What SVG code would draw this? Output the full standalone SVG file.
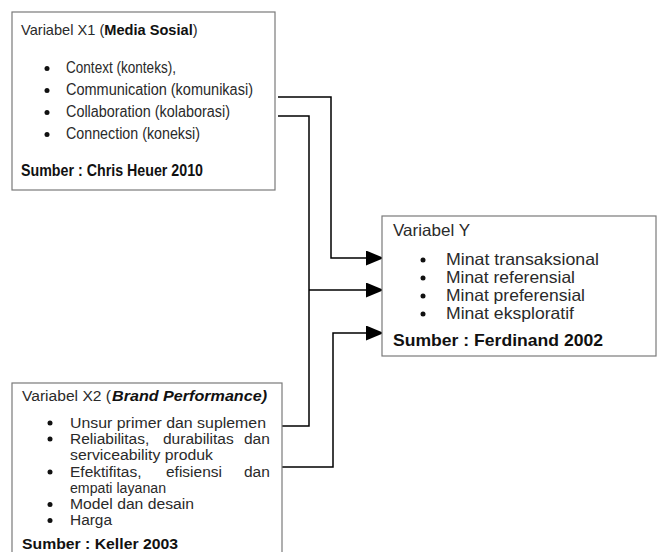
<svg xmlns="http://www.w3.org/2000/svg" width="658" height="552" viewBox="0 0 658 552">
<style>
.box{fill:#fff;stroke:#7a7a7a;stroke-width:1.2}
.t{font-family:"Liberation Sans",Arial,sans-serif;fill:#2a2a2a}
.b{font-weight:bold;fill:#111}
.bi{font-weight:bold;font-style:italic;fill:#111}
.dot{fill:#111}
.con{fill:none;stroke:#000;stroke-width:1.5}
.x1{font-size:16px}
.x2{font-size:15.5px}
.y{font-size:16.5px}
</style>
<defs>
<marker id="arr" markerUnits="userSpaceOnUse" markerWidth="18" markerHeight="15" refX="18" refY="7.5" orient="auto">
<path d="M0,0 L18,7.5 L0,15 z" fill="#000"/>
</marker>
</defs>
<rect width="658" height="552" fill="#fff"/>

<g id="connectors">
<path class="con" d="M278,97 H331 V258 H384" marker-end="url(#arr)"/>
<path class="con" d="M278,116 H309 V426 H282"/>
<path class="con" d="M309,290 H384" marker-end="url(#arr)"/>
<path class="con" d="M282,467 H333 V333 H384" marker-end="url(#arr)"/>
</g>

<g id="x1">
<rect class="box" x="12" y="12" width="263" height="178"/>
<text class="t" x="21" y="35" font-size="14.6">Variabel X1 (<tspan class="b">Media Sosial</tspan>)</text>
<circle class="dot" cx="47" cy="68.5" r="2.5"/>
<circle class="dot" cx="47" cy="90.5" r="2.5"/>
<circle class="dot" cx="47" cy="112.5" r="2.5"/>
<circle class="dot" cx="47" cy="134.5" r="2.5"/>
<text class="t x1" x="66" y="73" textLength="110" lengthAdjust="spacingAndGlyphs">Context (konteks),</text>
<text class="t x1" x="66" y="95" textLength="187" lengthAdjust="spacingAndGlyphs">Communication (komunikasi)</text>
<text class="t x1" x="66" y="117" textLength="164" lengthAdjust="spacingAndGlyphs">Collaboration (kolaborasi)</text>
<text class="t x1" x="66" y="139" textLength="134" lengthAdjust="spacingAndGlyphs">Connection (koneksi)</text>
<text class="t x1 b" x="21" y="176" textLength="182" lengthAdjust="spacingAndGlyphs">Sumber : Chris Heuer 2010</text>
</g>

<g id="y">
<rect class="box" x="382" y="216" width="274" height="140"/>
<text class="t y" x="393" y="236" textLength="77" lengthAdjust="spacingAndGlyphs">Variabel Y</text>
<circle class="dot" cx="423" cy="260" r="2.5"/>
<circle class="dot" cx="423" cy="278" r="2.5"/>
<circle class="dot" cx="423" cy="296" r="2.5"/>
<circle class="dot" cx="423" cy="314" r="2.5"/>
<text class="t y" x="446" y="265" textLength="153" lengthAdjust="spacingAndGlyphs">Minat transaksional</text>
<text class="t y" x="446" y="283" textLength="129" lengthAdjust="spacingAndGlyphs">Minat referensial</text>
<text class="t y" x="446" y="301" textLength="139" lengthAdjust="spacingAndGlyphs">Minat preferensial</text>
<text class="t y" x="446" y="319" textLength="128" lengthAdjust="spacingAndGlyphs">Minat eksploratif</text>
<text class="t y b" x="393" y="346" textLength="210" lengthAdjust="spacingAndGlyphs">Sumber : Ferdinand 2002</text>
</g>

<g id="x2">
<rect class="box" x="12" y="383" width="270" height="180"/>
<text class="t x2" x="22" y="401" textLength="89" lengthAdjust="spacingAndGlyphs">Variabel X2 (</text>
<text class="t x2 bi" x="112" y="401" textLength="155" lengthAdjust="spacingAndGlyphs">Brand Performance)</text>
<circle class="dot" cx="50" cy="423" r="2.5"/>
<circle class="dot" cx="50" cy="439" r="2.5"/>
<circle class="dot" cx="50" cy="472" r="2.5"/>
<circle class="dot" cx="50" cy="504.5" r="2.5"/>
<circle class="dot" cx="50" cy="520.5" r="2.5"/>
<text class="t x2" x="70" y="428" textLength="196" lengthAdjust="spacingAndGlyphs">Unsur primer dan suplemen</text>
<text class="t x2" x="70" y="444">Reliabilitas,</text>
<text class="t x2" x="163" y="444">durabilitas</text>
<text class="t x2" x="244" y="444">dan</text>
<text class="t x2" x="70" y="460" textLength="143" lengthAdjust="spacingAndGlyphs">serviceability produk</text>
<text class="t x2" x="70" y="477">Efektifitas,</text>
<text class="t x2" x="166" y="477">efisiensi</text>
<text class="t x2" x="244" y="477">dan</text>
<text class="t x2" x="70" y="493" textLength="96" lengthAdjust="spacingAndGlyphs">empati layanan</text>
<text class="t x2" x="70" y="509" textLength="124" lengthAdjust="spacingAndGlyphs">Model dan desain</text>
<text class="t x2" x="70" y="525" textLength="42" lengthAdjust="spacingAndGlyphs">Harga</text>
<text class="t x2 b" x="22" y="549" textLength="156" lengthAdjust="spacingAndGlyphs">Sumber : Keller 2003</text>
</g>
</svg>
